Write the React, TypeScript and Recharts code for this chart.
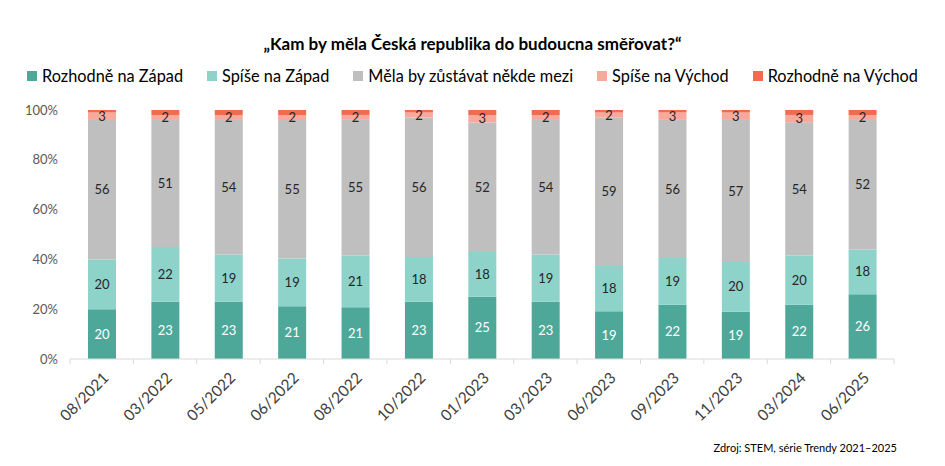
import { BarChart, Bar, XAxis, YAxis, LabelList } from "recharts";

const periods = ["08/2021", "03/2022", "05/2022", "06/2022", "08/2022", "10/2022", "01/2023", "03/2023", "06/2023", "09/2023", "11/2023", "03/2024", "06/2025"];
const rozhodneZapad = [20, 23, 23, 21, 21, 23, 25, 23, 19, 22, 19, 22, 26];
const spiseZapad = [20, 22, 19, 19, 21, 18, 18, 19, 18, 19, 20, 20, 18];
const mezi = [56, 51, 54, 55, 55, 56, 52, 54, 59, 56, 57, 54, 52];
const spiseVychod = [3, 2, 2, 2, 2, 2, 3, 2, 2, 3, 3, 3, 2];
const rozhodneVychod = [1, 2, 2, 2, 2, 1, 2, 2, 1, 1, 1, 2, 2];
const yTicks = [0, 0.2, 0.4, 0.6, 0.8, 1];

const series = [
  { key: "rz", name: "Rozhodně na Západ", color: "#4DA89A", label: "#ffffff" },
  { key: "sz", name: "Spíše na Západ", color: "#8DD3CA", label: "#262626" },
  { key: "m", name: "Měla by zůstávat někde mezi", color: "#BFBFBF", label: "#262626" },
  { key: "sv", name: "Spíše na Východ", color: "#F9A99B", label: "#262626" },
  { key: "rv", name: "Rozhodně na Východ", color: "#F26A4F", label: null },
];

const data = periods.map((p, i) => ({
  period: p,
  rz: rozhodneZapad[i],
  sz: spiseZapad[i],
  m: mezi[i],
  sv: spiseVychod[i],
  rv: rozhodneVychod[i],
}));

const FONT = "Lato, 'Open Sans', sans-serif";

function PeriodTick(props: any) {
  const { x, y, payload, index } = props;
  const half = payload && payload.offset ? payload.offset : 31.7;
  const tx = x + 8;
  const ty = y + 12;
  const axisY = y - 8;
  return (
    <g>
      {index === 0 && (
        <line x1={x - half} x2={x - half} y1={axisY} y2={axisY + 5} stroke="#D9D9D9" />
      )}
      <line x1={x + half} x2={x + half} y1={axisY} y2={axisY + 5} stroke="#D9D9D9" />
      <text
        x={tx}
        y={ty}
        transform={`rotate(-45, ${tx}, ${ty})`}
        textAnchor="end"
        fontSize={15.5}
        fill="#404040"
        fontFamily={FONT}
      >
        {payload.value}
      </text>
    </g>
  );
}

export default function App() {
  return (
    <div style={{ position: "absolute", left: 0, top: 0, width: 945, height: 466, background: "#fff", fontFamily: FONT }}>
      <div style={{ position: "absolute", top: 33, left: 0, width: 945, textAlign: "center", fontWeight: 700, fontSize: 17, color: "#000" }}>
        „Kam by měla Česká republika do budoucna směřovat?“
      </div>
      <div style={{ position: "absolute", top: 66, left: 0, width: 945, display: "flex", justifyContent: "center", gap: 24, fontSize: 16.3, color: "#000" }}>
        {series.map((s) => (
          <div key={s.key} style={{ display: "flex", alignItems: "center" }}>
            <span style={{ display: "inline-block", width: 10, height: 10, background: s.color, marginRight: 5 }} />
            <span>{s.name}</span>
          </div>
        ))}
      </div>
      <BarChart
        width={945}
        height={466}
        data={data}
        stackOffset="expand"
        margin={{ top: 110, right: 51, left: 0, bottom: 0 }}
      >
        <XAxis
          dataKey="period"
          height={107}
          interval={0}
          tickLine={false}
          axisLine={{ stroke: "#D9D9D9" }}
          tick={<PeriodTick />}
        />
        <YAxis
          width={70}
          ticks={yTicks}
          domain={[0, 1]}
          tickFormatter={(v: number) => `${Math.round(v * 100)}%`}
          axisLine={false}
          tickLine={false}
          tickMargin={6}
          tick={{ fontSize: 13, fill: "#595959", fontFamily: FONT }}
        />
        {series.map((s) => (
          <Bar key={s.key} dataKey={s.key} name={s.name} stackId="a" fill={s.color} barSize={28} isAnimationActive={false}>
            {s.label && (
              <LabelList dataKey={s.key} position="center" fill={s.label} fontSize={13} fontFamily={FONT} />
            )}
          </Bar>
        ))}
      </BarChart>
      <div style={{ position: "absolute", top: 441, right: 48, fontSize: 11, color: "#000" }}>
        Zdroj: STEM, série Trendy 2021–2025
      </div>
    </div>
  );
}
